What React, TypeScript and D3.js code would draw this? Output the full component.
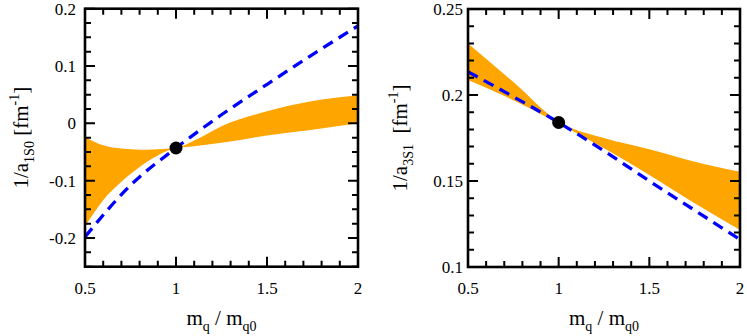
import React, { useEffect, useRef } from 'react';
import * as d3 from 'd3';

// left panel: 1S0 channel
const xsBand1 = [0.5, 0.6, 0.7, 0.8, 0.9, 1.0, 1.1, 1.25, 1.5, 1.75, 2.0];
const upper1 = [-0.024, -0.038, -0.044, -0.046, -0.045, -0.043, -0.03, -0.005, 0.021, 0.039, 0.049];
const lower1 = [-0.18, -0.134, -0.102, -0.076, -0.056, -0.043, -0.04, -0.034, -0.021, -0.011, 0.0];
const xsLine1 = [0.5, 0.75, 1.0, 1.25, 1.5, 1.75, 2.0];
const line1 = [-0.198, -0.108, -0.043, 0.015, 0.068, 0.12, 0.17];
const point1 = [1.0, -0.043];
const yTicks1 = [-0.2, -0.1, 0, 0.1, 0.2];
const yTickLabels1 = ['-0.2', '-0.1', '0', '0.1', '0.2'];

// right panel: 3S1 channel
const xsBand2 = [0.5, 0.75, 1.0, 1.25, 1.5, 1.75, 2.0];
const upper2 = [0.23, 0.2075, 0.1845, 0.175, 0.1685, 0.1612, 0.1554];
const lower2 = [0.2087, 0.197, 0.1835, 0.169, 0.1535, 0.137, 0.1215];
const xsLine2 = [0.5, 0.75, 1.0, 1.25, 1.5, 1.75, 2.0];
const line2 = [0.2135, 0.199, 0.184, 0.1675, 0.15, 0.133, 0.116];
const point2 = [1.0, 0.184];
const yTicks2 = [0.1, 0.15, 0.2, 0.25];
const yTickLabels2 = ['0.1', '0.15', '0.2', '0.25'];

const xTicks = [0.5, 1, 1.5, 2];
const xTickLabels = ['0.5', '1', '1.5', '2'];

const FONT = 'Liberation Serif';

const panels = [
  {
    id: 'c1', left: 85, right: 358, top: 8.7, bottom: 266.7, yDomain: [-0.25, 0.2], yMinorStep: 0.025,
    yTicks: yTicks1, yTickLabels: yTickLabels1, xsBand: xsBand1, upper: upper1, lower: lower1,
    xsLine: xsLine1, line: line1, point: point1, labelX: 28, sub: '1S0', gap: ' ', tickLabelRight: 76,
  },
  {
    id: 'c2', left: 468, right: 740, top: 9, bottom: 267, yDomain: [0.1, 0.25], yMinorStep: 0.01,
    yTicks: yTicks2, yTickLabels: yTickLabels2, xsBand: xsBand2, upper: upper2, lower: lower2,
    xsLine: xsLine2, line: line2, point: point2, labelX: 407, sub: '3S1', gap: '\u00a0\u00a0', tickLabelRight: 463,
  },
];

export default function App() {
  const ref = useRef<SVGSVGElement | null>(null);

  useEffect(() => {
    const svg = d3.select(ref.current);
    svg.selectAll('*').remove();

    panels.forEach((p) => {
      const x = d3.scaleLinear().domain([0.5, 2]).range([p.left, p.right]);
      const y = d3.scaleLinear().domain(p.yDomain).range([p.bottom, p.top]);
      const g = svg.append('g');

      g.append('clipPath').attr('id', p.id).append('rect')
        .attr('x', p.left).attr('y', p.top)
        .attr('width', p.right - p.left).attr('height', p.bottom - p.top);

      const plot = g.append('g').attr('clip-path', `url(#${p.id})`);
      const band = d3.area<number>()
        .x((d) => x(p.xsBand[d]))
        .y0((d) => y(p.lower[d]))
        .y1((d) => y(p.upper[d]))
        .curve(d3.curveMonotoneX);
      plot.append('path').attr('d', band(d3.range(p.xsBand.length))).attr('fill', '#ffa500');

      const dashed = d3.line<number>()
        .x((d) => x(p.xsLine[d]))
        .y((d) => y(p.line[d]))
        .curve(d3.curveMonotoneX);
      plot.append('path').attr('d', dashed(d3.range(p.xsLine.length)))
        .attr('fill', 'none').attr('stroke', '#0000ff')
        .attr('stroke-width', 3.3).attr('stroke-dasharray', '11,7');

      g.append('circle').attr('cx', x(p.point[0])).attr('cy', y(p.point[1]))
        .attr('r', 6.5).attr('fill', '#000');

      // ticks on all four sides, minor every step, majors longer
      const isMajor = (v: number, majors: number[]) => majors.some((m) => Math.abs(m - v) < 1e-6);
      const xMinor = d3.range(0.5, 2.0001, 0.1);
      const yMinor = d3.range(p.yDomain[0], p.yDomain[1] + 1e-6, p.yMinorStep);
      let d = '';
      xMinor.forEach((v) => {
        const len = isMajor(v, xTicks) ? 10 : 6;
        d += `M${x(v)},${p.bottom}v${-len}M${x(v)},${p.top}v${len}`;
      });
      yMinor.forEach((v) => {
        const len = isMajor(v, p.yTicks) ? 10 : 6;
        d += `M${p.left},${y(v)}h${len}M${p.right},${y(v)}h${-len}`;
      });
      g.append('path').attr('d', d).attr('fill', 'none').attr('stroke', '#000').attr('stroke-width', 2);

      g.append('rect')
        .attr('x', p.left).attr('y', p.top)
        .attr('width', p.right - p.left).attr('height', p.bottom - p.top)
        .attr('fill', 'none').attr('stroke', '#000').attr('stroke-width', 2.6);

      const t = g.append('g').attr('font-family', FONT).attr('fill', '#000');
      xTicks.forEach((v, i) => {
        t.append('text').attr('x', x(v)).attr('y', p.bottom + 27)
          .attr('text-anchor', 'middle').attr('font-size', 17).text(xTickLabels[i]);
      });
      p.yTicks.forEach((v, i) => {
        t.append('text').attr('x', p.tickLabelRight).attr('y', y(v) + 6)
          .attr('text-anchor', 'end').attr('font-size', 17).text(p.yTickLabels[i]);
      });

      const midX = (p.left + p.right) / 2;
      const midY = (p.top + p.bottom) / 2;

      const xt = t.append('text').attr('x', midX).attr('y', 325)
        .attr('text-anchor', 'middle').attr('font-size', 21);
      xt.append('tspan').text('m');
      xt.append('tspan').attr('font-size', 14).attr('dy', 6).text('q');
      xt.append('tspan').attr('dy', -6).text(' / m');
      xt.append('tspan').attr('font-size', 14).attr('dy', 6).text('q0');

      const yt = t.append('text')
        .attr('transform', `translate(${p.labelX},${midY}) rotate(-90)`)
        .attr('text-anchor', 'middle').attr('font-size', 21);
      yt.append('tspan').text('1/a');
      yt.append('tspan').attr('font-size', 14).attr('dy', 6).text(p.sub);
      yt.append('tspan').attr('dy', -6).text(p.gap + '[fm');
      yt.append('tspan').attr('font-size', 14).attr('dy', -9).text('-1');
      yt.append('tspan').attr('dy', 9).text(']');
    });
  }, []);

  return (
    <svg
      ref={ref}
      width={747}
      height={336}
      style={{ position: 'absolute', left: 0, top: 0, background: '#fff' }}
    />
  );
}
